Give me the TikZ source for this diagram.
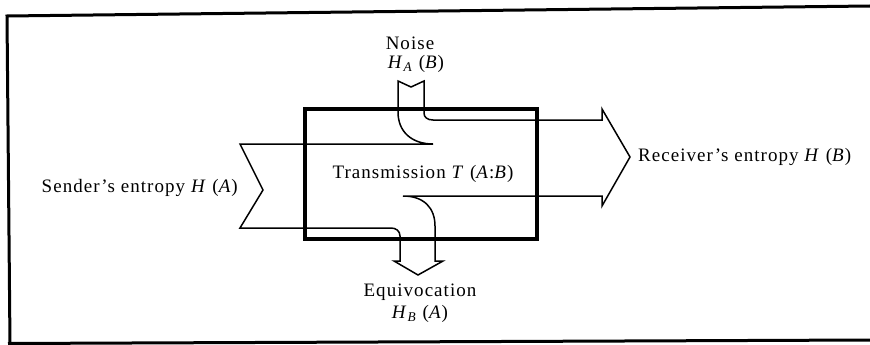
\documentclass[tikz,border=0pt]{standalone}
\usepackage{fontspec}
\setmainfont{Liberation Serif}
\newfontfamily\lblfont[LetterSpace=5.5]{Liberation Serif}
\begin{document}
\begin{tikzpicture}[x=1pt,y=-1pt,
  flow/.style={line width=1.5pt,line join=miter,line cap=butt},
  chan/.style={line width=4pt},
  frame/.style={line width=3pt},
  lbl/.style={inner sep=0pt,font=\lblfont\fontsize{19}{21}\selectfont}]
\useasboundingbox (0,0) rectangle (870,345);
% frame
\draw[frame] (870,6) -- (7,16) -- (10,345);
\draw[frame] (8,343.5) -- (870,340);
% flows
\draw[flow] (240,144) -- (433,144)
  .. controls (412,144) and (398,132) .. (398,112)
  -- (398,81) -- (411,87) -- (424,81) -- (424,113)
  .. controls (424,117) and (427,120) .. (433,120)
  -- (602,120) -- (602,109) -- (630,157) -- (602,206) -- (602,196)
  -- (403,196) .. controls (424,196) and (435,208) .. (435,226)
  -- (435,261) -- (443,261) -- (418,275) -- (394,261) -- (400,261)
  -- (400,236) .. controls (400,231) and (396,228) .. (391,228)
  -- (240,228) -- (263,190) -- cycle;
% channel box
\draw[chan] (305,109) rectangle (537,239);
\node[lbl] (trans) at (423,174) {Transmission \textit{T} (\textit{A}:\textit{B})};
% labels
\node[lbl,anchor=east] (sender) at (238,188) {Sender’s entropy \textit{H} (\textit{A})};
\node[lbl,anchor=west] (recv) at (638,157) {Receiver’s entropy \textit{H} (\textit{B})};
\node[lbl] (noise) at (410,43) {Noise};
\node[lbl] (noiseH) at (416,64) {\textit{H}\textsubscript{\textit{A}} (\textit{B})};
\node[lbl] (equiv) at (420,292) {Equivocation};
\node[lbl] (equivH) at (420,314) {\textit{H}\textsubscript{\textit{B}} (\textit{A})};
\end{tikzpicture}
\end{document}
